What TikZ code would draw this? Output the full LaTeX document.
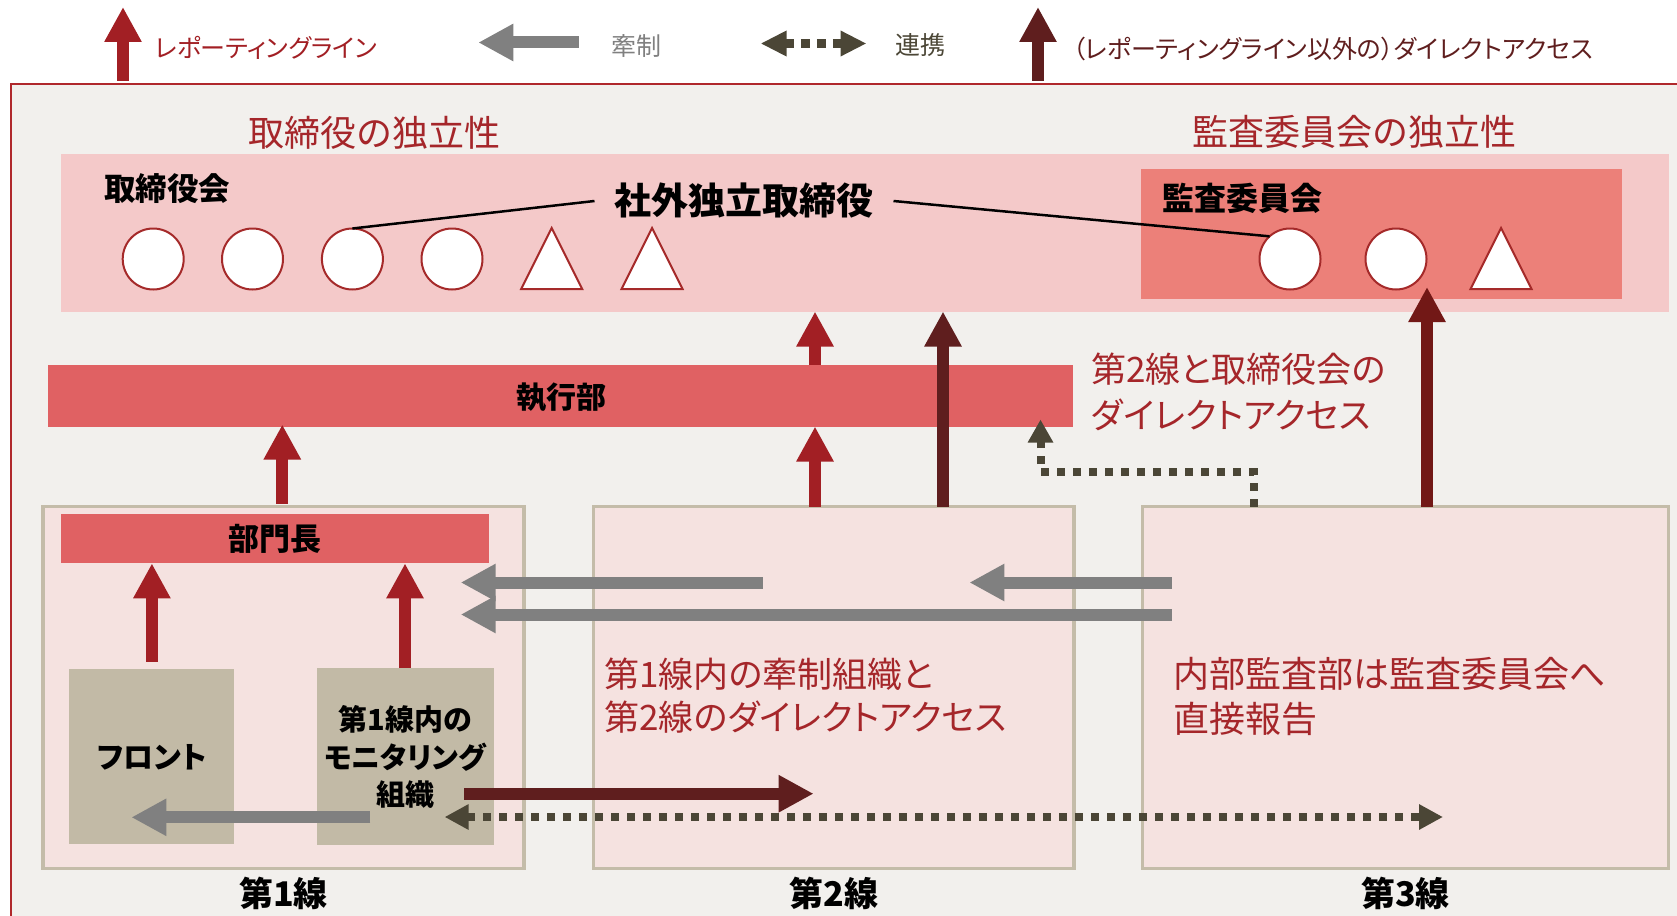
\documentclass[tikz,border=0pt]{standalone}
\usepackage{fontspec}
\setmainfont{Noto Sans CJK JP}
\usetikzlibrary{arrows.meta,shapes.geometric}
\definecolor{bgc}{HTML}{F2F0ED}
\definecolor{framec}{HTML}{B0282C}
\definecolor{boardc}{HTML}{F4C9C9}
\definecolor{auditc}{HTML}{EC8079}
\definecolor{execc}{HTML}{E06163}
\definecolor{linec}{HTML}{F5E2E0}
\definecolor{tanc}{HTML}{C2BAA6}
\definecolor{tanborder}{HTML}{C4BCA9}
\definecolor{redc}{HTML}{A21F24}
\definecolor{dredc}{HTML}{5F1E1E}
\definecolor{dredthree}{HTML}{721816}
\definecolor{grayc}{HTML}{808080}
\definecolor{olivec}{HTML}{4B4636}
\definecolor{redtxt}{HTML}{A5262A}
\definecolor{circc}{HTML}{A52A2A}
\newcommand\fsz[2]{\fontsize{#1pt}{#2pt}\selectfont}
\newcommand\propw{\addfontfeatures{RawFeature=+palt}}
\tikzset{
 area/.style={rectangle, inner sep=0pt, outer sep=0pt, draw=none},
 linebox/.style={area, fill=linec, draw=tanborder, line width=3.6pt},
 mem/.style={circle, draw=circc, line width=2pt, fill=white, minimum size=61pt, inner sep=0pt, outer sep=0pt},
 tri/.style={isosceles triangle, shape border rotate=90, isosceles triangle stretches, minimum width=61pt, minimum height=61pt, draw=circc, fill=white, line width=2pt, inner sep=0pt, outer sep=0pt, anchor=apex},
 lbl/.style={inner sep=0pt, outer sep=0pt},
 rarr/.style={draw=redc, line width=12pt, -{Triangle[width=35pt,length=35pt]}},
 darr/.style={rarr, draw=dredc},
 garr/.style={rarr, draw=grayc},
 dotl/.style={draw=olivec, line width=8pt, dash pattern=on 8pt off 8pt},
}
\begin{document}
\begin{tikzpicture}[x=1pt,y=-1pt]
\useasboundingbox (0,0) rectangle (1677,915);
\begin{scope}
\clip (0,0) rectangle (1677,915);
\draw[framec, line width=2.5pt, fill=bgc] (11,84) rectangle (1730,960);
\end{scope}
% ---------- legend
\coordinate (lgAa) at (123,81); \coordinate (lgAb) at (123,7);
\draw[rarr] (lgAa) -- (lgAb);
\node[lbl, anchor=west, text=redc, font=\fsz{25}{25}\propw] (lgtA) at (155,48) {レポーティングライン};
\coordinate (lgBa) at (578.5,42.5); \coordinate (lgBb) at (478.3,42.5);
\draw[garr] (lgBa) -- (lgBb);
\node[lbl, text=grayc, font=\fsz{25}{25}] (lgtB) at (636.6,45.8) {牽制};
\coordinate (lgCa) at (760.6,43.5); \coordinate (lgCb) at (866.5,43.5);
\draw[dotl, line width=9pt, dash pattern=on 9pt off 7pt, {Triangle[width=24pt,length=26pt]}-{Triangle[width=24pt,length=26pt]}] (lgCa) -- (lgCb);
\node[lbl, text=olivec, font=\fsz{25}{25}] (lgtC) at (920,45) {連携};
\coordinate (lgDa) at (1038,81); \coordinate (lgDb) at (1038,7);
\draw[darr] (lgDa) -- (lgDb);
\node[lbl, anchor=west, text=dredc, font=\fsz{25}{25}\propw] (lgtD) at (1072.7,49) {（レポーティングライン以外の）ダイレクトアクセス};
% ---------- titles
\node[lbl, text=redtxt, font=\fsz{36}{36}] (tA) at (374,132.5) {取締役の独立性};
\node[lbl, text=redtxt, font=\fsz{36}{36}] (tB) at (1354,132) {監査委員会の独立性};
% ---------- board
\node[area, fill=boardc, minimum width=1608pt, minimum height=157.5pt] (board) at (865,232.75) {};
\node[area, fill=auditc, minimum width=480.5pt, minimum height=130pt] (audit) at (1381.25,234) {};
\node[lbl, font=\fsz{31.5}{31.5}\bfseries] (bdl) at (167,189) {取締役会};
\node[lbl, font=\fsz{32}{32}\bfseries] (adl) at (1242,198) {監査委員会};
\node[lbl, inner xsep=20pt, font=\fsz{37}{37}\bfseries] (sg) at (744,201) {社外独立取締役};
\node[mem] (c1) at (153.2,259) {};
\node[mem] (c2) at (252.5,259) {};
\node[mem] (c3) at (352.4,259) {};
\node[mem] (c4) at (452,259) {};
\node[tri] (t1) at (551.7,228) {};
\node[tri] (t2) at (652,228) {};
\node[mem] (ac1) at (1290,259) {};
\node[mem] (ac2) at (1396,259) {};
\node[tri] (at1) at (1501,228) {};
\draw[line width=2.5pt] (sg.west) -- (c3.north);
\draw[line width=2.5pt] (sg.east) -- (ac1.132);
% ---------- executive
\node[area, fill=execc, minimum width=1024.7pt, minimum height=61.5pt] (exec) at (560.35,395.75) {};
\node[lbl, font=\fsz{30}{30}\bfseries] (execl) at (561,397) {執行部};
\node[lbl, anchor=west, align=left, text=redtxt, font=\fsz{35}{46}\propw] (note2) at (1091.4,392) {第2線と取締役会の\\ダイレクトアクセス};
% ---------- lines
\node[linebox, minimum width=481pt, minimum height=362pt] (l1) at (283.5,687.5) {};
\node[linebox, minimum width=480.3pt, minimum height=362pt] (l2) at (833.75,687.5) {};
\node[linebox, minimum width=526.3pt, minimum height=362pt] (l3) at (1405.5,687.5) {};
\node[lbl, font=\fsz{34}{34}\bfseries] (l1l) at (283.5,893) {第1線};
\node[lbl, font=\fsz{34}{34}\bfseries] (l2l) at (833.75,893) {第2線};
\node[lbl, font=\fsz{34}{34}\bfseries] (l3l) at (1405.5,893) {第3線};
\node[area, fill=execc, minimum width=427.2pt, minimum height=49.3pt] (bumon) at (275,538.7) {};
\node[lbl, font=\fsz{31}{31}\bfseries] (bumonl) at (275,539) {部門長};
\node[area, fill=tanc, minimum width=165pt, minimum height=175pt] (front) at (151.9,756) {};
\node[lbl, font=\fsz{30}{30}\bfseries\propw] (frontl) at (151.9,757) {フロント};
\node[area, fill=tanc, minimum width=177pt, minimum height=177pt] (mon) at (405,756) {};
\node[lbl, align=center, font=\fsz{29}{37.4}\bfseries\propw] (monl) at (405,757) {第1線内の\\モニタリング\\組織};
\node[lbl, anchor=west, align=left, text=redtxt, font=\fsz{35}{43}\propw] (note1) at (604.3,695.2) {第1線内の牽制組織と\\第2線のダイレクトアクセス};
\node[lbl, anchor=west, align=left, text=redtxt, font=\fsz{36}{45}] (note3) at (1173.6,696.2) {内部監査部は監査委員会へ\\直接報告};
% ---------- vertical arrows
\coordinate (xA) at (815,0);
\coordinate (xB) at (943,0);
\coordinate (xC) at (282.3,0);
\coordinate (xD) at (1427,0);
\coordinate (xE) at (1254,0);
\draw[rarr] (exec.north -| xA) -- (board.south -| xA);
\draw[rarr] (l2.north -| xA) -- (exec.south -| xA);
\draw[darr] (l2.north -| xB) -- (board.south -| xB);
\draw[rarr] ([yshift=3pt]l1.north -| xC) -- ([yshift=2pt]exec.south -| xC);
\draw[darr, draw=dredthree] (l3.north -| xD) -- ([yshift=12pt]audit.south -| xD);
\coordinate (dj) at (1040.5,471.7);
\draw[dotl, -{Triangle[width=24pt,length=23pt]}] (l3.north -| xE) |- (dj) -- ([yshift=7pt]exec.south -| dj);
\draw[rarr] ([yshift=7pt]front.north) -- (bumon.south -| front.north);
\draw[rarr] (mon.north) -- (bumon.south -| mon.north);
% ---------- horizontal arrows
\coordinate (gAa) at (370.4,817.3); \coordinate (gAb) at (131.4,817.3);
\draw[garr] (gAa) -- (gAb);
\coordinate (gBa) at (762.7,582.5); \coordinate (gBb) at (460.7,582.5);
\draw[garr] (gBa) -- (gBb);
\coordinate (gCa) at (1171.8,614.5); \coordinate (gCb) at (460.7,614.5);
\draw[garr] (gCa) -- (gCb);
\coordinate (gDa) at (1171.8,582.5); \coordinate (gDb) at (969.4,582.5);
\draw[garr] (gDa) -- (gDb);
\coordinate (hAa) at (464.3,793.7); \coordinate (hAb) at (813.6,793.7);
\draw[darr] (hAa) -- (hAb);
\coordinate (hBa) at (444.6,817); \coordinate (hBb) at (1443,817);
\draw[dotl, {Triangle[width=24pt,length=24pt]}-{Triangle[width=24pt,length=24pt]}] (hBa) -- (hBb);
\end{tikzpicture}
\end{document}
